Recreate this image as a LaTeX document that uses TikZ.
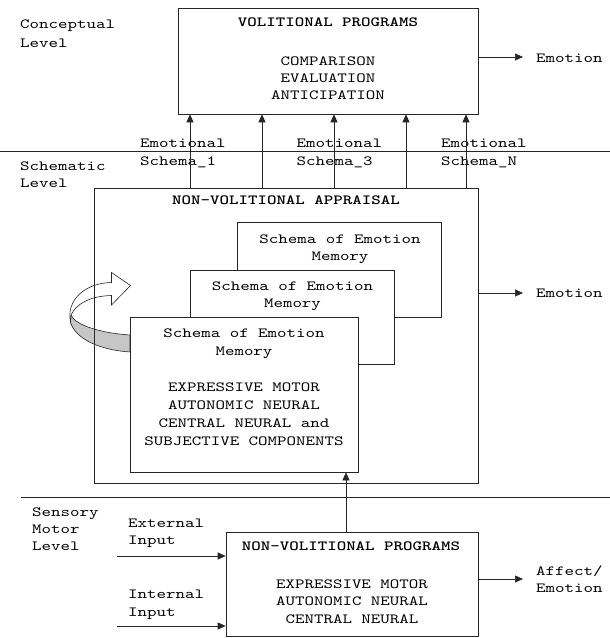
\documentclass[tikz,border=0pt]{standalone}
\usepackage{fontspec}
\newfontfamily\cour{lmmono10-regular.otf}[FakeStretch=1.29, BoldFont=lmmonolt10-bold.otf]
\usetikzlibrary{arrows.meta}
\begin{document}
\begin{tikzpicture}[x=1pt,y=-1pt,
  txt/.style={font=\cour\fontsize{14}{18}\selectfont, inner sep=0pt, text height=8.5pt, text depth=0pt},
  lt/.style={txt, anchor=west},
  bt/.style={txt, font=\cour\bfseries\fontsize{14}{18}\selectfont},
  box/.style={draw=black!85, line width=.7pt, fill=white, inner sep=0pt},
  obox/.style={draw=black!85, line width=.7pt, inner sep=0pt},
  arr/.style={draw=black!85, line width=.7pt, -{Triangle[length=8pt,width=7pt]}},
  lvl/.style={draw=black!85, line width=.7pt}]
\useasboundingbox (0,0) rectangle (610,638);

% level separators
\coordinate (l1a) at (0,151.5);   \coordinate (l1b) at (610,151.5);
\coordinate (l2a) at (21,497);  \coordinate (l2b) at (610,497);
\draw[lvl] (l1a) -- (l1b);
\draw[lvl] (l2a) -- (l2b);

% level labels
\node[lt] (cl1) at (20,24) {Conceptual};
\node[lt] (cl2) at (20,43) {Level};
\node[lt] (sl1) at (20,166.5) {Schematic};
\node[lt] (sl2) at (20,183) {Level};
\node[lt] (ml1) at (32,512) {Sensory};
\node[lt] (ml2) at (32,529) {Motor};
\node[lt] (ml3) at (32,546) {Level};

% volitional programs
\node[obox, minimum width=300pt, minimum height=106pt] (vol) at (328,61) {};
\node[bt] (volt) at (328,22) {VOLITIONAL PROGRAMS};
\node[txt] (v1) at (328,61) {COMPARISON};
\node[txt] (v2) at (328,78) {EVALUATION};
\node[txt] (v3) at (328,95) {ANTICIPATION};
\node[lt] (em1) at (536,58) {Emotion};
\coordinate (em1y) at (0,57);
\draw[arr] (vol.east |- em1y) -- ([xshift=-13pt]em1.west |- em1y);

% curved grey arrow (drawn behind the boxes)
\draw[draw=black!85, line width=.6pt, fill=gray!45] (130,335) .. controls (100,333) and (75,325) .. (71,315)
  -- (70.5,322) .. controls (75,339) and (100,350) .. (130,352) -- cycle;
\draw[draw=black!85, line width=.6pt, fill=white] (70.5,322) .. controls (66,300) and (85,283) .. (111.5,282.5)
  -- (111.5,272.5) -- (130.5,285.5) -- (111.5,305) -- (111.5,295.5)
  .. controls (90,296) and (76,304) .. (71,315) -- cycle;

% non-volitional appraisal
\node[obox, minimum width=383.5pt, minimum height=295pt] (app) at (286.25,335.5) {};
\node[bt] (appt) at (286,200) {NON-VOLITIONAL APPRAISAL};

\node[box, minimum width=204.6pt, minimum height=94.3pt] (s3) at (339.3,269.85) {};
\node[txt] (s3a) at (340,239) {Schema of Emotion};
\node[txt] (s3b) at (340,256) {Memory};
\node[box, minimum width=204pt, minimum height=94pt] (s2) at (292,317) {};
\node[txt] (s2a) at (292.5,286) {Schema of Emotion};
\node[txt] (s2b) at (292.5,303) {Memory};
\node[box, minimum width=228pt, minimum height=155pt] (s1) at (244,394.5) {};
\node[txt] (s1a) at (244,333) {Schema of Emotion};
\node[txt] (s1b) at (244,351) {Memory};
\node[txt] (s1c) at (244,387) {EXPRESSIVE MOTOR};
\node[txt] (s1d) at (244,405) {AUTONOMIC NEURAL};
\node[txt] (s1e) at (244,423) {CENTRAL NEURAL and};
\node[txt] (s1f) at (244,441) {SUBJECTIVE COMPONENTS};

\node[lt] (em2) at (536,293) {Emotion};
\draw[arr] (app.east |- em2.west) -- ([xshift=-13pt]em2.west);

% emotional schema labels and upward arrows
\node[lt] (e1a) at (140,143) {Emotional};
\node[lt] (e1b) at (140,161) {Schema\_1};
\node[lt] (e3a) at (296.5,143) {Emotional};
\node[lt] (e3b) at (296.5,161) {Schema\_3};
\node[lt] (eNa) at (441,143) {Emotional};
\node[lt] (eNb) at (441,161) {Schema\_N};
\foreach \i/\xx in {1/190,2/262,3/334,4/406,5/466}{
  \coordinate (ax\i) at (\xx,0);
  \draw[arr] (app.north -| ax\i) -- (vol.south -| ax\i);
}

% non-volitional programs
\node[obox, minimum width=252pt, minimum height=104pt] (np) at (352,584) {};
\node[bt] (npt) at (351,546) {NON-VOLITIONAL PROGRAMS};
\node[txt] (n1) at (352,584) {EXPRESSIVE MOTOR};
\node[txt] (n2) at (352,601.5) {AUTONOMIC NEURAL};
\node[txt] (n3) at (352,619) {CENTRAL NEURAL};
\coordinate (upx) at (346,0);
\draw[arr] (np.north -| upx) -- (s1.south -| upx);

\node[lt] (af1) at (536,571) {Affect/};
\node[lt] (af2) at (536,588) {Emotion};
\coordinate (afy) at (0,579);
\draw[arr] (np.east |- afy) -- ([xshift=-13pt]af1.west |- afy);

\node[lt] (ex1) at (128,523) {External};
\node[lt] (ex2) at (128,540) {Input};
\node[lt] (in1) at (128,594) {Internal};
\node[lt] (in2) at (128,612) {Input};
\coordinate (exs) at (117,556);
\coordinate (ins) at (117,626);
\draw[arr] (exs) -- (np.west |- exs);
\draw[arr] (ins) -- (np.west |- ins);
\end{tikzpicture}
\end{document}
